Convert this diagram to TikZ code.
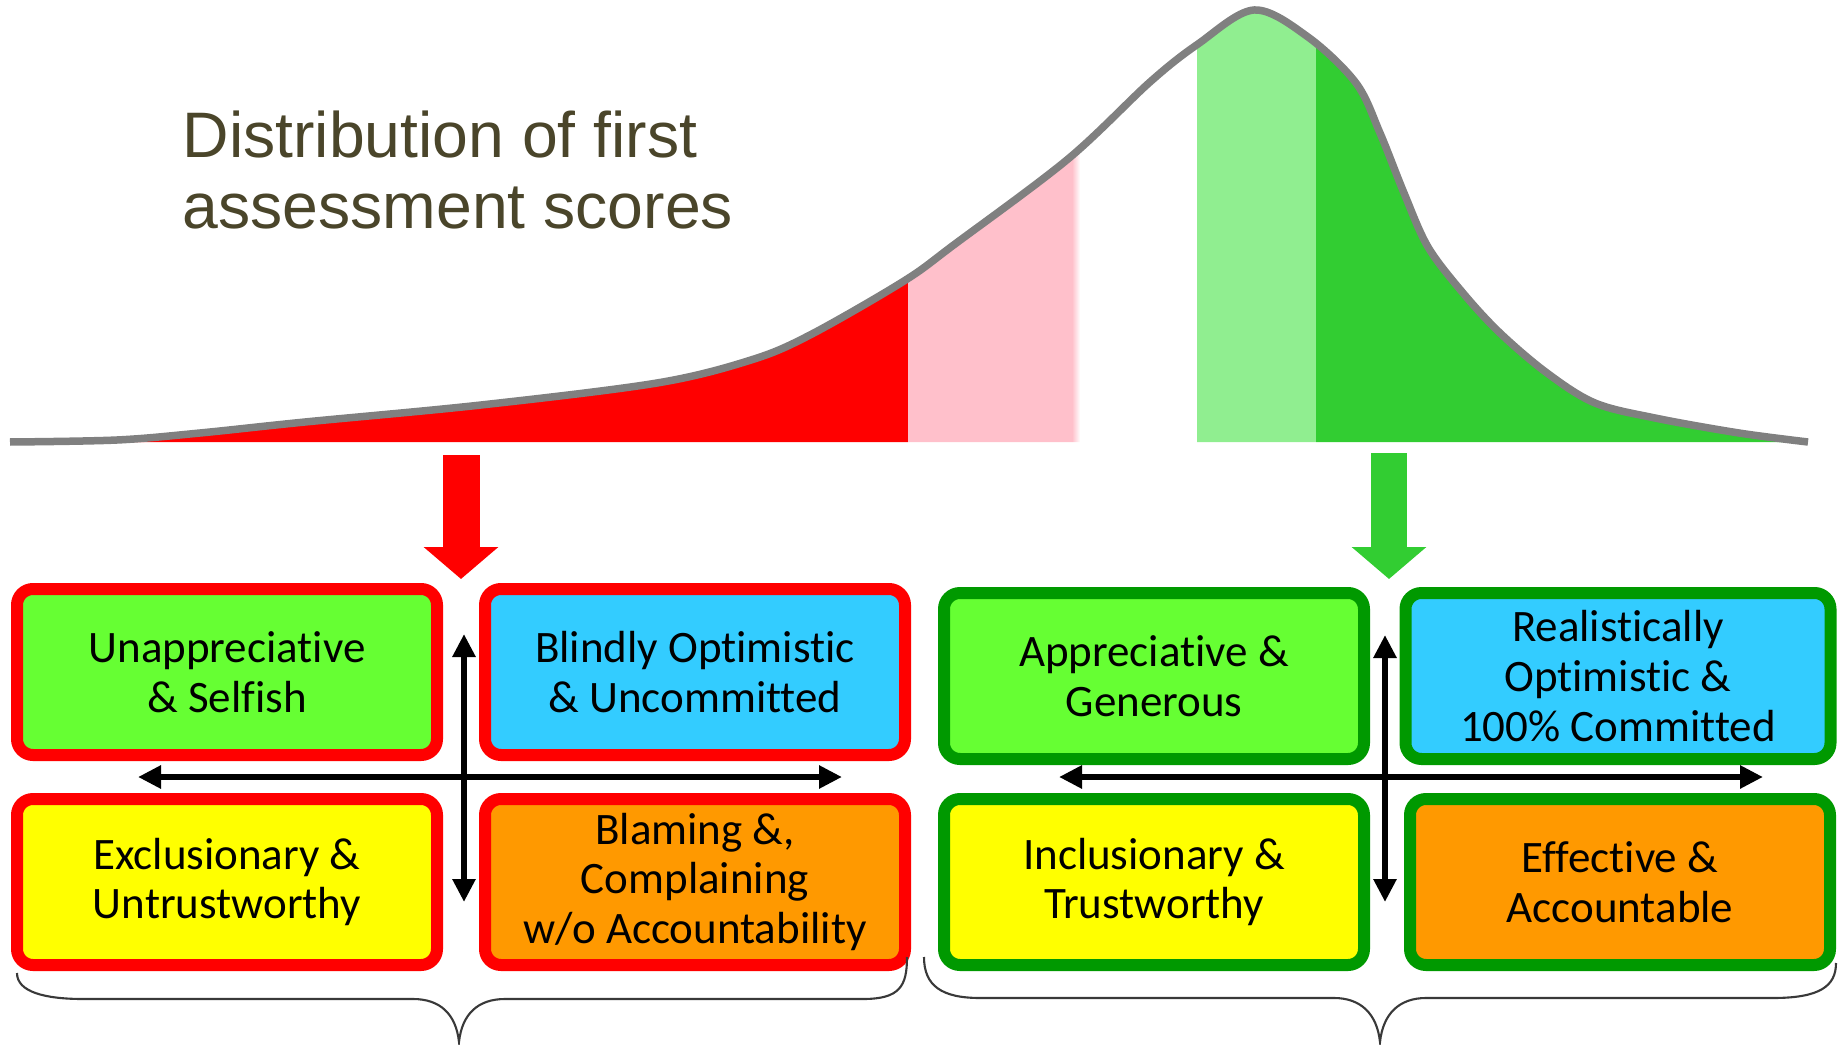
\documentclass[tikz,border=0pt]{standalone}
\usepackage{fontspec}
\setmainfont{Carlito}[Ligatures=NoCommon]
\newfontfamily\titlefont{Liberation Sans}
\usepackage{tikz}
\usetikzlibrary{arrows.meta,positioning,calc}
\definecolor{titletext}{RGB}{74,69,42}
\definecolor{curvegray}{RGB}{128,128,128}
\definecolor{bandred}{RGB}{255,0,0}
\definecolor{bandpink}{RGB}{255,192,203}
\definecolor{bandlight}{RGB}{144,238,144}
\definecolor{banddark}{RGB}{50,205,50}
\definecolor{goodgreen}{RGB}{0,153,0}
\definecolor{boxgreen}{RGB}{102,255,51}
\definecolor{boxblue}{RGB}{51,204,255}
\definecolor{boxyellow}{RGB}{255,255,0}
\definecolor{boxorange}{RGB}{255,153,0}

\newcommand{\scorecurve}{plot[smooth, tension=0.55] coordinates {
    (0.10,6.02) (1.17,6.04) (2.00,6.11) (3.05,6.22) (4.81,6.39)
    (6.57,6.61) (7.51,6.84) (8.10,7.09) (9.04,7.63) (9.55,8.00)
    (10.68,8.85) (11.50,9.62) (11.98,10.00) (12.54,10.34) (13.08,10.07)
    (13.56,9.61) (13.80,9.11) (14.04,8.51) (14.28,7.97) (14.63,7.51)
    (15.00,7.11) (15.47,6.71) (15.95,6.41) (16.55,6.26) (17.39,6.11)
    (18.08,6.02)}}

\begin{document}
\begin{tikzpicture}[
    box/.style={rectangle, rounded corners=1.6mm, line width=1.2mm,
                minimum width=4.2cm, minimum height=1.66cm, align=center,
                font=\fontsize{12.8}{14.2}\selectfont},
    badbox/.style={box, draw=red},
    goodbox/.style={box, draw=goodgreen},
    axis/.style={{Triangle[width=2.2mm,length=2.3mm]}-{Triangle[width=2.2mm,length=2.3mm]},
                 line width=0.6mm},
    brace/.style={line width=0.6pt, draw=gray!45!black}
]
    \useasboundingbox (0,0) rectangle (18.38,10.44);

    % Score distribution
    \begin{scope}
        \clip \scorecurve -- cycle;
        \fill[bandred] (0,6) rectangle (9.08,10.5);
        \fill[bandpink] (9.08,6) rectangle (10.72,10.5);
        \shade[left color=bandpink, right color=white] (10.72,6) rectangle (10.80,10.5);
        \fill[bandlight] (11.97,6) rectangle (13.16,10.5);
        \fill[banddark] (13.16,6) rectangle (18.4,10.5);
    \end{scope}
    \draw[curvegray, line width=0.75mm, line join=round] \scorecurve;

    \node[font=\titlefont\fontsize{18.3}{20.2}\selectfont, text=titletext,
          align=left, anchor=north west, inner sep=0] (title) at (1.82,9.34)
          {Distribution of first\\assessment scores};

    % Low scores
    \node[badbox, fill=boxgreen] (selfish) at (2.27,3.72) {Unappreciative\\\& Selfish};
    \node[badbox, fill=boxblue] (blind) at (6.95,3.72) {Blindly Optimistic\\\& Uncommitted};
    \node[badbox, fill=boxyellow] (exclusive) at (2.27,1.62) {Exclusionary \&\\Untrustworthy};
    \node[badbox, fill=boxorange] (blaming) at (6.95,1.62) {Blaming \&,\\Complaining\\w/o Accountability};

    % High scores
    \node[goodbox, fill=boxgreen] (generous) at (11.54,3.68) {Appreciative \&\\Generous};
    \node[goodbox, fill=boxblue, minimum width=4.25cm] (realistic) at (16.18,3.68) {Realistically\\Optimistic \&\\100\% Committed};
    \node[goodbox, fill=boxyellow] (inclusive) at (11.54,1.62) {Inclusionary \&\\Trustworthy};
    \node[goodbox, fill=boxorange] (effective) at (16.20,1.62) {Effective \&\\Accountable};

    % Block arrows
    \coordinate (redfrom) at (4.61,5.89);
    \coordinate (redto) at (4.61,4.65);
    \coordinate (greenfrom) at (13.89,5.91);
    \coordinate (greento) at (13.89,4.65);
    \draw[bandred, line width=3.7mm, -{Triangle[width=7.3mm,length=3.2mm]}] (redfrom) -- (redto);
    \draw[banddark, line width=3.6mm, -{Triangle[width=7.3mm,length=3.2mm]}] (greenfrom) -- (greento);

    % Axes
    \coordinate (lw) at (1.38,2.67);
    \coordinate (le) at (8.42,2.67);
    \coordinate (ln) at (4.64,4.10);
    \coordinate (ls) at (4.64,1.42);
    \coordinate (rw) at (10.59,2.67);
    \coordinate (re) at (17.63,2.67);
    \coordinate (rn) at (13.85,4.09);
    \coordinate (rs) at (13.85,1.42);
    \draw[axis] (lw) -- (le);
    \draw[axis] (ln) -- (ls);
    \draw[axis] (rw) -- (re);
    \draw[axis] (rn) -- (rs);

    % Braces
    \draw[brace] (0.17,0.71) .. controls (0.17,0.52) and (0.45,0.45) .. (0.83,0.45)
        -- (4.13,0.45) .. controls (4.40,0.45) and (4.56,0.30) .. (4.59,0.02)
        .. controls (4.62,0.30) and (4.78,0.45) .. (5.05,0.45)
        -- (8.63,0.45) .. controls (9.00,0.45) and (9.07,0.58) .. (9.07,0.87);
    \draw[brace] (9.24,0.87) .. controls (9.24,0.58) and (9.42,0.46) .. (9.80,0.46)
        -- (13.34,0.46) .. controls (13.61,0.46) and (13.77,0.30) .. (13.80,0.02)
        .. controls (13.83,0.30) and (13.99,0.46) .. (14.26,0.46)
        -- (17.73,0.46) .. controls (18.20,0.46) and (18.36,0.58) .. (18.36,0.81);
\end{tikzpicture}
\end{document}
